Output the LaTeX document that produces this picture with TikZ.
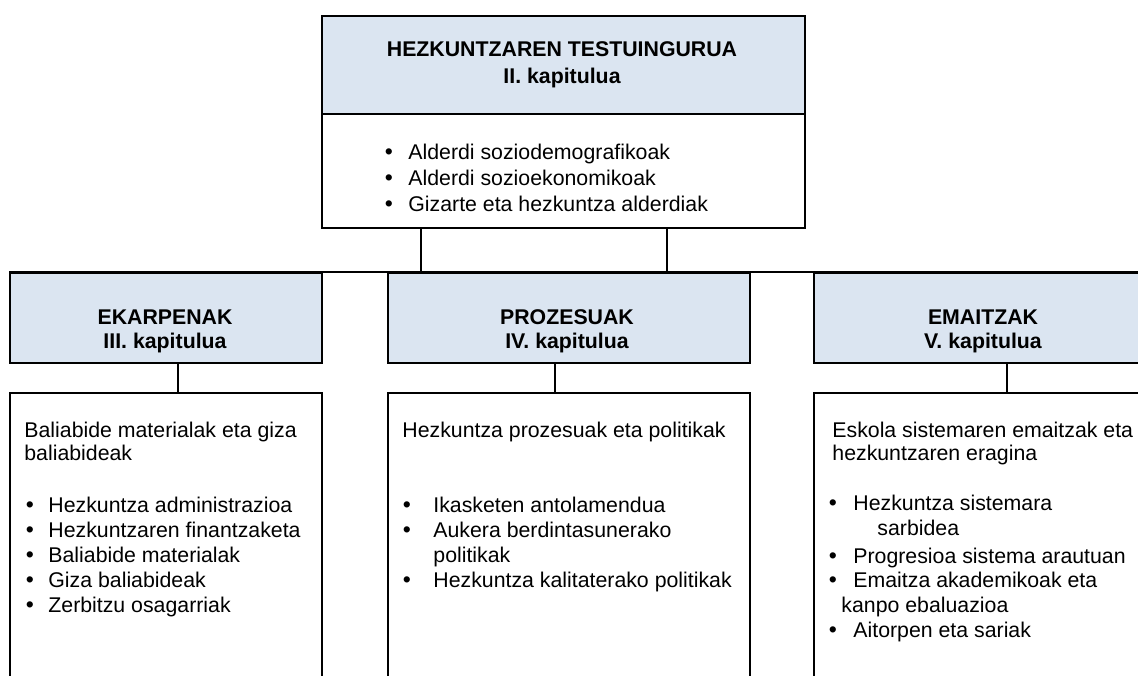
\documentclass[tikz,border=0pt]{standalone}
\usepackage{fontspec}
\setmainfont{Liberation Sans}
\definecolor{headblue}{RGB}{219,229,241}
\begin{document}
\begin{tikzpicture}%
	[x=0.5pt, y=-0.5pt,
	link/.style={line width=1.1pt},
	box/.style={draw, line width=1.1pt, inner sep=0pt, anchor=north west},
	head/.style={box, fill=headblue},
	ttl/.style={inner sep=0pt, anchor=base, align=center, font=\bfseries\fontsize{10.65}{12}\selectfont},
	txt/.style={inner sep=0pt, anchor=base west, font=\fontsize{10.65}{12.5}\selectfont},
	dot/.style={inner sep=0pt, anchor=base, font=\fontsize{11.5}{12.5}\selectfont}]
%
\useasboundingbox (0,0) rectangle (1138,675);
\clip (0,0) rectangle (1138,675);
%
%% Boxes:
%%
\node[head, minimum width=241.5pt, minimum height=49pt] (ctxhead) at (321,15) {};
\node[box, minimum width=241.5pt, minimum height=57pt] (ctxbody) at (321,113) {};
\node[head, minimum width=156pt, minimum height=45pt] (inhead) at (9,272) {};
\node[box, minimum width=156pt, minimum height=160pt] (inbody) at (9,392) {};
\node[head, minimum width=181pt, minimum height=45pt] (prochead) at (387,272) {};
\node[box, minimum width=181pt, minimum height=160pt] (procbody) at (387,392) {};
\node[head, minimum width=170pt, minimum height=45pt] (outhead) at (813,272) {};
\node[box, minimum width=170pt, minimum height=160pt] (outbody) at (813,392) {};
%%
%%
%% Connectors
%%
\coordinate (j1) at (421,0);
\coordinate (j2) at (667,0);
\coordinate (jin) at (178,0);
\coordinate (jproc) at (555,0);
\coordinate (jout) at (1007,0);
\draw[link] (inhead.north west) -- (outhead.north east);
\draw[link] (j1 |- ctxbody.south) -- (j1 |- prochead.north);
\draw[link] (j2 |- ctxbody.south) -- (j2 |- prochead.north);
\draw[link] (jin |- inhead.south) -- (jin |- inbody.north);
\draw[link] (jproc |- prochead.south) -- (jproc |- procbody.north);
\draw[link] (jout |- outhead.south) -- (jout |- outbody.north);
%%
%%
%% Titles (anchored on the last line)
%%
\node[ttl] (ctxtitle) at (562,83) {HEZKUNTZAREN TESTUINGURUA\\[1.5pt]II. kapitulua};
\node[ttl] (intitle) at (165,348) {EKARPENAK\\III. kapitulua};
\node[ttl] (proctitle) at (567,348) {PROZESUAK\\IV. kapitulua};
\node[ttl] (outtitle) at (983,348) {EMAITZAK\\V. kapitulua};
%%
%%
%% Context list
%%
\foreach \y/\t [count=\i] in {159/Alderdi soziodemografikoak, 185/Alderdi sozioekonomikoak, 211/Gizarte eta hezkuntza alderdiak}
{
	\node[dot] (ctxdot\i) at (389,\y) {\textbullet};
	\node[txt] (ctxitem\i) at (408,\y) {\t};
}
%%
%%
%% Inputs
%%
\node[txt] (inintro1) at (24,437) {Baliabide materialak eta giza};
\node[txt] (inintro2) at (24,460) {baliabideak};
\foreach \y/\t [count=\i] in {512/Hezkuntza administrazioa, 537/Hezkuntzaren finantzaketa, 562/Baliabide materialak, 587/Giza baliabideak, 612/Zerbitzu osagarriak}
{
	\node[dot] (indot\i) at (30,\y) {\textbullet};
	\node[txt] (initem\i) at (48,\y) {\t};
}
%%
%%
%% Processes
%%
\node[txt] (procintro) at (402,437) {Hezkuntza prozesuak eta politikak};
\foreach \y [count=\i] in {512,537,587}
	\node[dot] (procdot\i) at (407,\y) {\textbullet};
\foreach \y/\t [count=\i] in {512/Ikasketen antolamendua, 537/Aukera berdintasunerako, 562/politikak, 587/Hezkuntza kalitaterako politikak}
	\node[txt] (procitem\i) at (433,\y) {\t};
%%
%%
%% Outcomes
%%
\node[txt] (outintro1) at (832,437) {Eskola sistemaren emaitzak eta};
\node[txt] (outintro2) at (832,460) {hezkuntzaren eragina};
\foreach \y [count=\i] in {510,563,587,637}
	\node[dot] (outdot\i) at (833,\y) {\textbullet};
\node[txt] (outitem1) at (853,510) {Hezkuntza sistemara};
\node[txt] (outitem2) at (877,535) {sarbidea};
\node[txt] (outitem3) at (853,563) {Progresioa sistema arautuan};
\node[txt] (outitem4) at (853,587) {Emaitza akademikoak eta};
\node[txt] (outitem5) at (841,612) {kanpo ebaluazioa};
\node[txt] (outitem6) at (853,637) {Aitorpen eta sariak};
%%
%%
\end{tikzpicture}
\end{document}
